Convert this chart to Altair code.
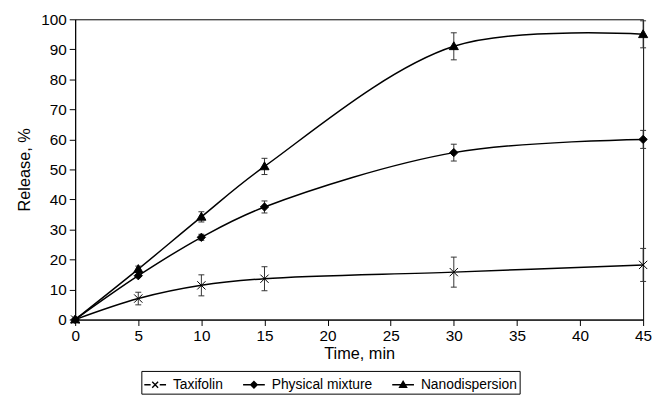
import altair as alt
import pandas as pd

time = [0, 5, 10, 15, 30, 45]
series_names = ["Taxifolin", "Physical mixture", "Nanodispersion"]
taxifolin = [0, 7.0, 11.4, 13.6, 15.8, 18.2]
taxifolin_err = [0, 2.1, 3.5, 4.0, 5.0, 5.5]
physical = [0, 14.6, 27.4, 37.5, 55.6, 60.0]
physical_err = [0, 0.0, 1.0, 2.0, 2.8, 3.0]
nano = [0, 16.8, 34.2, 51.0, 91.0, 95.0]
nano_err = [0, 1.0, 1.7, 2.7, 4.5, 4.5]

rows = []
for name, vals, errs in zip(series_names, [taxifolin, physical, nano],
                            [taxifolin_err, physical_err, nano_err]):
    for t, v, e in zip(time, vals, errs):
        rows.append({"series": name, "time": t, "release": v,
                     "lo": v - e, "hi": v + e, "err": e})
df = pd.DataFrame(rows)

FONT = "Liberation Sans"
x_scale = alt.Scale(domain=[0, 45], nice=False)
y_scale = alt.Scale(domain=[0, 100], nice=False)
x_axis = alt.Axis(values=list(range(0, 50, 5)), title="Time, min",
                  labelFlush=False, labelOverlap=False)
y_axis = alt.Axis(values=list(range(0, 110, 10)), title="Release, %",
                  labelOverlap=False, labelFlush=False)


def X(f):
    return alt.X(f, scale=x_scale, axis=x_axis)


def Y(f):
    return alt.Y(f, scale=y_scale, axis=y_axis)


base = alt.Chart(df)

lines = base.mark_line(interpolate="catmull-rom", color="black", strokeWidth=1.5).encode(
    x=X("time:Q"), y=Y("release:Q"), detail="series:N")

errs = base.transform_filter("datum.err > 0")
err_rule = errs.mark_rule(color="#333333", strokeWidth=1).encode(
    x=X("time:Q"), y=Y("lo:Q"), y2="hi:Q")
cap_lo = errs.mark_point(shape="stroke", size=36, color="#333333", strokeWidth=1, opacity=1).encode(
    x=X("time:Q"), y=Y("lo:Q"))
cap_hi = errs.mark_point(shape="stroke", size=36, color="#333333", strokeWidth=1, opacity=1).encode(
    x=X("time:Q"), y=Y("hi:Q"))

marker_paths = [
    "M-1,-1L1,1M-1,1L1,-1",
    "M0,-1L1,0L0,1L-1,0Z",
    "M0,-1.1L1.1,0.8L-1.1,0.8Z",
]
# legend keys: short line, marker, short line (stroke-only, solid look via inner strokes)
legend_paths = [
    "M-1,0L-0.42,0M0.42,0L1,0M-0.27,-0.27L0.27,0.27M-0.27,0.27L0.27,-0.27",
    "M-1,0L1,0M0,-0.3L0.3,0L0,0.3L-0.3,0ZM0,-0.15L0.15,0L0,0.15L-0.15,0Z",
    "M-1,0L1,0M0,-0.32L0.32,0.24L-0.32,0.24ZM0,-0.14L0.15,0.14L-0.15,0.14Z",
]

points = base.mark_point(fill="black", stroke="black", strokeWidth=1, opacity=1, size=70).encode(
    x=X("time:Q"), y=Y("release:Q"),
    shape=alt.Shape("series:N", scale=alt.Scale(domain=series_names, range=marker_paths),
                    legend=None))

legend_layer = base.mark_point(
    filled=False, color="black", strokeWidth=1.4, opacity=0).encode(
    x=X("time:Q"), y=Y("release:Q"),
    shape=alt.Shape("series:N", scale=alt.Scale(domain=series_names, range=legend_paths),
                    legend=alt.Legend(orient="none", legendX=67, legendY=356,
                                      direction="horizontal", title=None,
                                      strokeColor="black", padding=2,
                                      labelFont=FONT, labelFontSize=14, labelColor="black",
                                      symbolSize=484, symbolStrokeWidth=1.4,
                                      symbolOpacity=1,
                                      columnPadding=17, labelOffset=6)))

chart = alt.layer(lines, err_rule, cap_lo, cap_hi, points, legend_layer).resolve_scale(
    shape="independent"
).properties(
    width=575, height=304,
    autosize=alt.AutoSizeParams(type="none"),
    padding={"left": 68, "top": 9, "right": 10, "bottom": 80},
).configure_view(
    stroke="black", strokeWidth=1
).configure_axis(
    grid=False, labelFont=FONT, titleFont=FONT, labelFontSize=15.5, titleFontSize=16.5,
    titleFontWeight="normal", labelColor="black", titleColor="black",
    domainColor="black", tickColor="black", tickSize=6, labelPadding=3
).configure_axisY(
    titlePadding=8
).configure_axisX(
    titlePadding=2
)

chart.save("out.html", embed_options={"renderer": "svg", "actions": False})
